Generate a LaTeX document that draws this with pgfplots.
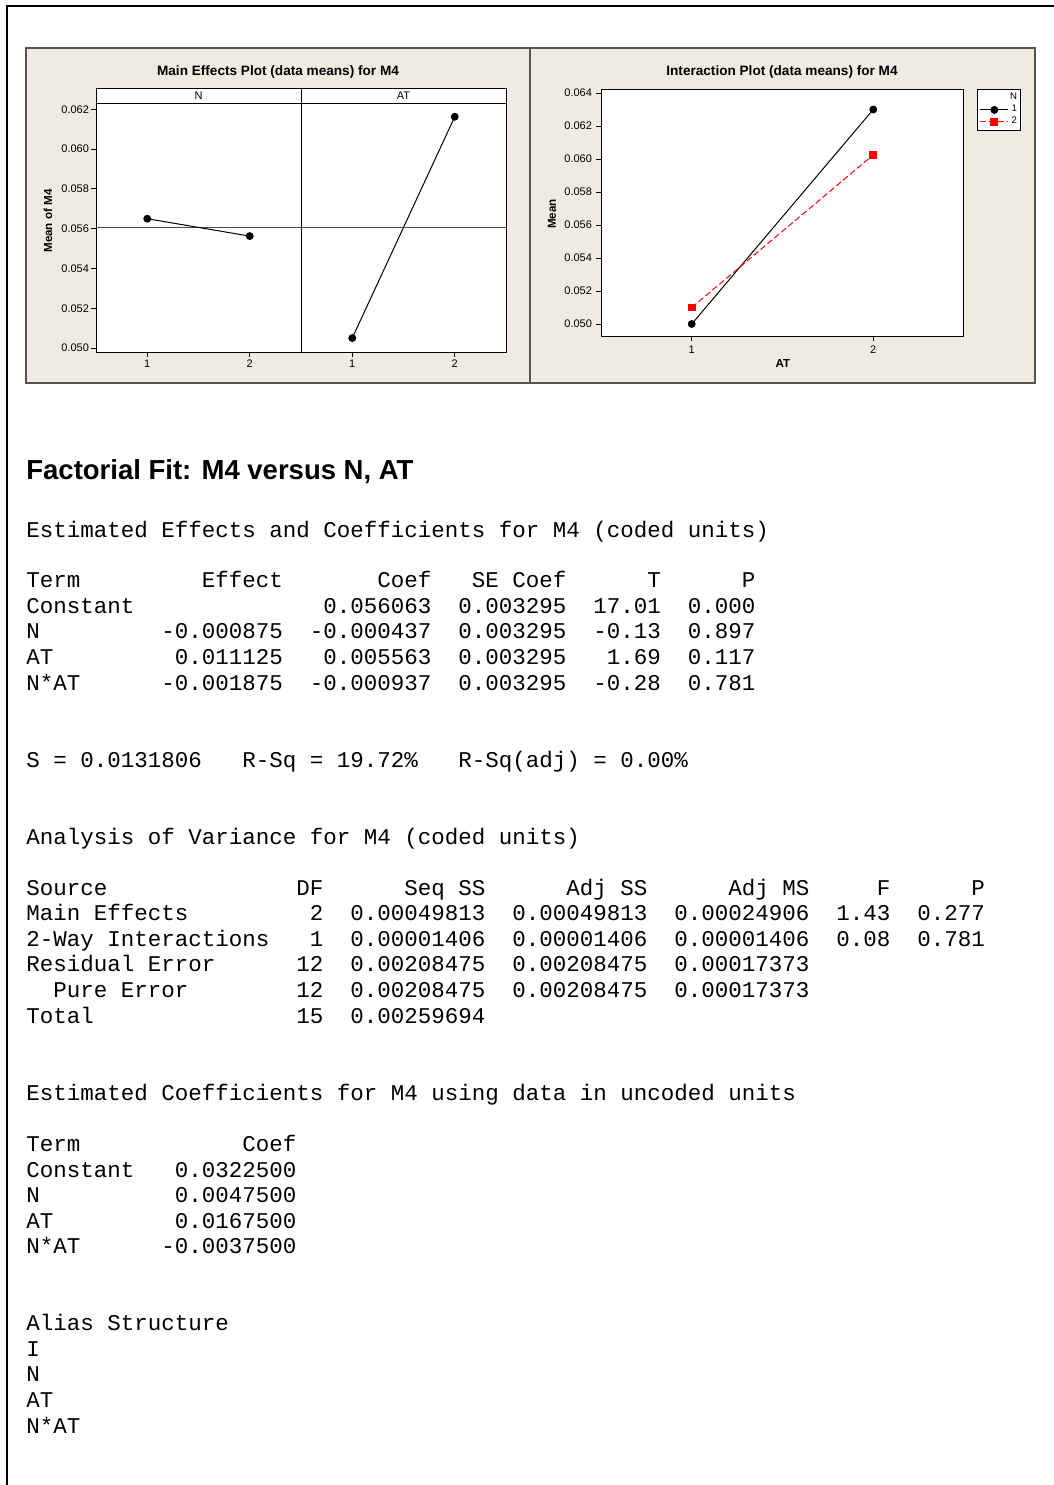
\documentclass[border=0pt]{standalone}
\usepackage{pgfplots}
\pgfplotsset{compat=1.18}
\usepackage{fontspec}
\setmainfont{Liberation Sans}
\newfontfamily\mono{Liberation Mono}
\definecolor{panelbg}{RGB}{239,235,224}
\definecolor{panelbd}{RGB}{85,85,85}
\newcommand\mt[3]{\node[anchor=base west,inner sep=0pt,font=\mono\fontsize{11.25}{12}\selectfont] at ({26+#2*13.5},{#1+7}) {#3};}
\pgfplotsset{mstyle/.style={scale only axis, axis background/.style={fill=white},
  tick align=outside, major tick length=2.5pt, tick style={black,line width=0.4pt},
  axis line style={line width=0.5pt}, ticklabel style={font=\fontsize{5.5}{6}\selectfont},
  /pgf/number format/assume math mode=true, scaled y ticks=false, scaled x ticks=false,
  xmin=0.5, xmax=2.5, xtick={1,2}, xticklabels={1,2},
  xtick pos=bottom, ytick pos=left, clip=false}}
\begin{document}
\begin{tikzpicture}
\begin{scope}[x=0.5pt,y=-0.5pt]
\useasboundingbox (0,0) rectangle (1054,1485);
\fill[white] (0,0) rectangle (1054,1485);
\draw[line width=0.8pt] (7,1490) -- (7,6) -- (1060,6);
\filldraw[fill=panelbg,draw=panelbd,line width=0.6pt] (26,48) rectangle (530,383);
\filldraw[fill=panelbg,draw=panelbd,line width=0.6pt] (530,48) rectangle (1035,383);
\end{scope}
% main effects: N
\begin{axis}[mstyle, at={(48pt,-176pt)}, anchor=south west, width=102.5pt, height=124.5pt,
  ymin=0.049799, ymax=0.062317,
  ytick={0.050,0.052,0.054,0.056,0.058,0.060,0.062},
  yticklabels={0.050,0.052,0.054,0.056,0.058,0.060,0.062},
  yticklabel style={xshift=2.5pt}, xticklabel style={yshift=2pt}]
\addplot[black!70, line width=0.4pt] coordinates {(0.5,0.056063) (2.5,0.056063)};
\addplot[black, line width=0.5pt, mark=*, mark size=1.7pt] coordinates {(1,0.0565005) (2,0.0556255)};
\end{axis}
% main effects: AT
\begin{axis}[mstyle, at={(150.5pt,-176pt)}, anchor=south west, width=102.5pt, height=124.5pt,
  ymin=0.049799, ymax=0.062317, ytick=\empty, xticklabel style={yshift=2pt}]
\addplot[black!70, line width=0.4pt] coordinates {(0.5,0.056063) (2.5,0.056063)};
\addplot[black, line width=0.5pt, mark=*, mark size=1.7pt] coordinates {(1,0.0505005) (2,0.0616255)};
\end{axis}
% interaction
\begin{axis}[mstyle, at={(300.5pt,-168pt)}, anchor=south west, width=181.5pt, height=123.5pt,
  ymin=0.049273, ymax=0.064242,
  ytick={0.050,0.052,0.054,0.056,0.058,0.060,0.062,0.064},
  yticklabels={0.050,0.052,0.054,0.056,0.058,0.060,0.062,0.064},
  yticklabel style={xshift=1.5pt}, xticklabel style={yshift=1pt},
  legend cell align=right,
  legend image code/.code={\draw[mark repeat=2,mark phase=2,#1] plot coordinates {(0pt,0pt) (7pt,0pt) (14pt,0pt)};},
  legend style={at={(1.0358,1)}, anchor=north west, font=\fontsize{4.8}{5}\selectfont,
    draw=black, line width=0.5pt, inner sep=1.2pt, row sep=0pt, nodes={inner sep=0.6pt}}]
\addlegendimage{empty legend}\addlegendentry{N}
\addplot[black, line width=0.5pt, mark=*, mark size=1.7pt] coordinates {(1,0.0500) (2,0.0630)};
\addlegendentry{1}
\addplot[red, line width=0.5pt, dash pattern=on 3pt off 1.5pt, mark=square*, mark size=1.7pt, mark options={solid}] coordinates {(1,0.0510) (2,0.060252)};
\addlegendentry{2}
\end{axis}
\begin{scope}[x=0.5pt,y=-0.5pt]
\filldraw[fill=white,draw=black,line width=0.5pt] (96,88) rectangle (506,103);
\draw[line width=0.5pt] (301,88) -- (301,103);
\node[font=\fontsize{5.5}{6}\selectfont] at (198.5,95.5) {N};
\node[font=\fontsize{5.5}{6}\selectfont] at (403.5,95.5) {AT};
\node[font=\fontsize{6.8}{7}\selectfont\bfseries] at (278,72) {Main Effects Plot (data means) for M4};
\node[rotate=90,font=\fontsize{5.8}{6}\selectfont\bfseries] at (48,221) {Mean of M4};
\node[font=\fontsize{6.8}{7}\selectfont\bfseries] at (782,72) {Interaction Plot (data means) for M4};
\node[rotate=90,font=\fontsize{5.8}{6}\selectfont\bfseries] at (552,214) {Mean};
\node[font=\fontsize{5.8}{6}\selectfont\bfseries] at (783,363) {AT};
% text output
\node[anchor=base west,inner sep=0pt,font=\fontsize{13.75}{14}\selectfont\bfseries] at (26,479) {Factorial Fit: M4 versus N, AT};
\mt{530}{0}{Estimated Effects and Coefficients for M4 (coded units)}
\mt{580}{0}{Term}\mt{580}{13}{Effect}\mt{580}{26}{Coef}\mt{580}{33}{SE Coef}\mt{580}{46}{T}\mt{580}{53}{P}
\mt{606}{0}{Constant}\mt{606}{22}{0.056063}\mt{606}{32}{0.003295}\mt{606}{42}{17.01}\mt{606}{49}{0.000}
\mt{631}{0}{N}\mt{631}{10}{-0.000875}\mt{631}{21}{-0.000437}\mt{631}{32}{0.003295}\mt{631}{42}{-0.13}\mt{631}{49}{0.897}
\mt{657}{0}{AT}\mt{657}{11}{0.011125}\mt{657}{22}{0.005563}\mt{657}{32}{0.003295}\mt{657}{43}{1.69}\mt{657}{49}{0.117}
\mt{683}{0}{N*AT}\mt{683}{10}{-0.001875}\mt{683}{21}{-0.000937}\mt{683}{32}{0.003295}\mt{683}{42}{-0.28}\mt{683}{49}{0.781}
\mt{760}{0}{S = 0.0131806}\mt{760}{16}{R-Sq = 19.72\%}\mt{760}{32}{R-Sq(adj) = 0.00\%}
\mt{837}{0}{Analysis of Variance for M4 (coded units)}
\mt{888}{0}{Source}\mt{888}{20}{DF}\mt{888}{28}{Seq SS}\mt{888}{40}{Adj SS}\mt{888}{52}{Adj MS}\mt{888}{63}{F}\mt{888}{70}{P}
\mt{913}{0}{Main Effects}\mt{913}{21}{2}\mt{913}{24}{0.00049813}\mt{913}{36}{0.00049813}\mt{913}{48}{0.00024906}\mt{913}{60}{1.43}\mt{913}{66}{0.277}
\mt{939}{0}{2-Way Interactions}\mt{939}{21}{1}\mt{939}{24}{0.00001406}\mt{939}{36}{0.00001406}\mt{939}{48}{0.00001406}\mt{939}{60}{0.08}\mt{939}{66}{0.781}
\mt{964}{0}{Residual Error}\mt{964}{20}{12}\mt{964}{24}{0.00208475}\mt{964}{36}{0.00208475}\mt{964}{48}{0.00017373}
\mt{990}{2}{Pure Error}\mt{990}{20}{12}\mt{990}{24}{0.00208475}\mt{990}{36}{0.00208475}\mt{990}{48}{0.00017373}
\mt{1016}{0}{Total}\mt{1016}{20}{15}\mt{1016}{24}{0.00259694}
\mt{1093}{0}{Estimated Coefficients for M4 using data in uncoded units}
\mt{1144}{0}{Term}\mt{1144}{16}{Coef}
\mt{1170}{0}{Constant}\mt{1170}{11}{0.0322500}
\mt{1195}{0}{N}\mt{1195}{11}{0.0047500}
\mt{1221}{0}{AT}\mt{1221}{11}{0.0167500}
\mt{1246}{0}{N*AT}\mt{1246}{10}{-0.0037500}
\mt{1323}{0}{Alias Structure}
\mt{1349}{0}{I}
\mt{1374}{0}{N}
\mt{1400}{0}{AT}
\mt{1426}{0}{N*AT}
\end{scope}
\end{tikzpicture}
\end{document}
